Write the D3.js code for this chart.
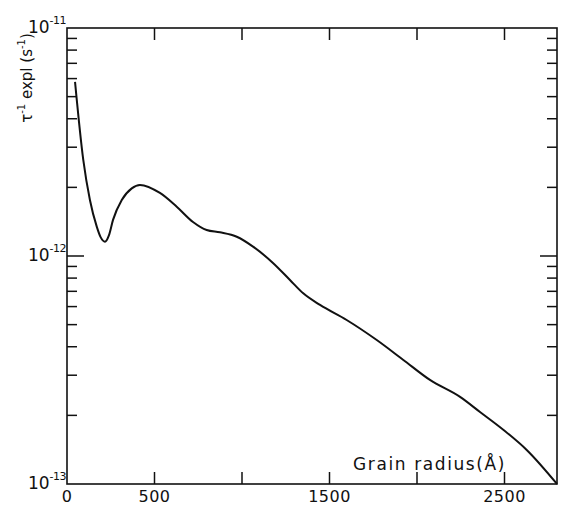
<html>
<head>
  <script src="https://cdn.jsdelivr.net/npm/d3@7"></script>
  <style>
    body { margin: 0; background: #fff; }
    text { font-family: "DejaVu Sans", sans-serif; fill: #111; }
  </style>
</head>
<body>
  <svg id="chart" width="567" height="509"></svg>

  <script type="text/javascript">

  // grain radius (Angstrom) and inverse relaxation time (s^-1)
  let radius = [46, 93, 131, 170, 192, 217, 240, 263, 313, 370, 417, 531, 627, 720, 798, 874, 970,
                1063, 1177, 1274, 1350, 1446, 1598, 1770, 1922, 2074, 2246, 2360, 2493, 2627, 2800]
  let tauInv = [5.8e-12, 2.64e-12, 1.76e-12, 1.345e-12, 1.21e-12, 1.155e-12, 1.235e-12, 1.44e-12, 1.76e-12, 1.98e-12, 2.05e-12,
                1.89e-12, 1.645e-12, 1.41e-12, 1.30e-12, 1.27e-12, 1.215e-12,
                1.10e-12, 9.32e-13, 7.85e-13, 6.86e-13, 6.10e-13, 5.24e-13, 4.28e-13, 3.50e-13, 2.86e-13,
                2.41e-13, 2.07e-13, 1.73e-13, 1.41e-13, 1.0e-13]

  let xTicks = [500, 1000, 1500, 2000, 2500]
  let xLabels = ["0", "500", "1500", "2500"]
  let xLabelVals = [0, 500, 1500, 2500]
  let decades = [-11, -12, -13]

  let pLeft = 67, pRight = 557, pTop = 28, pBottom = 484

  let svg = d3.select('#chart')

  let x = d3.scaleLinear().domain([0, 2800]).range([pLeft, pRight])
  let y = d3.scaleLog().domain([1e-13, 1e-11]).range([pBottom, pTop])

  // frame
  svg.append("rect")
     .attr("x", pLeft).attr("y", pTop)
     .attr("width", pRight - pLeft).attr("height", pBottom - pTop)
     .attr("fill", "none").attr("stroke", "#111").attr("stroke-width", 1.6)

  // x ticks, inward on bottom and top
  let xt = svg.append("g").attr("stroke", "#111").attr("stroke-width", 1.5)
  xTicks.forEach(function(v){
    xt.append("line").attr("x1", x(v)).attr("x2", x(v)).attr("y1", pBottom).attr("y2", pBottom - 12)
    xt.append("line").attr("x1", x(v)).attr("x2", x(v)).attr("y1", pTop).attr("y2", pTop + 12)
  })

  svg.selectAll(".xlab")
     .data(xLabelVals)
     .enter()
     .append("text")
     .attr("class", "xlab")
     .attr("x", function(d){ return x(d) })
     .attr("y", 502)
     .attr("text-anchor", "middle")
     .attr("font-size", 16)
     .attr("letter-spacing", 0.5)
     .text(function(d, i){ return xLabels[i] })

  // y minor/major ticks on left and right
  let minor = []
  ;[-13, -12].forEach(function(e){
    for (let k = 2; k <= 9; k++) minor.push(k * Math.pow(10, e))
  })
  let yt = svg.append("g").attr("stroke", "#111").attr("stroke-width", 1.5)
  minor.forEach(function(v){
    yt.append("line").attr("x1", pLeft).attr("x2", pLeft + 10).attr("y1", y(v)).attr("y2", y(v))
    yt.append("line").attr("x1", pRight).attr("x2", pRight - 10).attr("y1", y(v)).attr("y2", y(v))
  })
  yt.append("line").attr("x1", pLeft).attr("x2", pLeft + 17).attr("y1", y(1e-12)).attr("y2", y(1e-12))
  yt.append("line").attr("x1", pRight).attr("x2", pRight - 17).attr("y1", y(1e-12)).attr("y2", y(1e-12))

  // decade labels 10^-n
  decades.forEach(function(e){
    let t = svg.append("text")
       .attr("x", 66)
       .attr("y", y(Math.pow(10, e)) + 5)
       .attr("text-anchor", "end")
       .attr("font-size", 17)
    t.append("tspan").text("10")
    t.append("tspan").attr("dy", -9).attr("font-size", 11).attr("letter-spacing", -0.5).text(String(e))
  })

  // axis titles
  let yl = svg.append("text")
     .attr("transform", "translate(32,78) rotate(-90)")
     .attr("text-anchor", "middle")
     .attr("font-size", 15)
  yl.append("tspan").text("τ")
  yl.append("tspan").attr("dy", -7).attr("font-size", 10).text("-1")
  yl.append("tspan").attr("dy", 7).text(" expl (s")
  yl.append("tspan").attr("dy", -7).attr("font-size", 10).text("-1")
  yl.append("tspan").attr("dy", 7).text(")")

  svg.append("text")
     .attr("x", 506).attr("y", 470)
     .attr("text-anchor", "end")
     .attr("font-size", 17)
     .attr("letter-spacing", 1.6)
     .text("Grain radius(Å)")

  // curve
  let pts = radius.map(function(r, i){ return [r, tauInv[i]] })
  let line = d3.line()
     .x(function(d){ return x(d[0]) })
     .y(function(d){ return y(d[1]) })
     .curve(d3.curveMonotoneX)

  svg.append("path")
     .datum(pts)
     .attr("d", line)
     .attr("fill", "none")
     .attr("stroke", "#111")
     .attr("stroke-width", 2)

  </script>
</body>
</html>
